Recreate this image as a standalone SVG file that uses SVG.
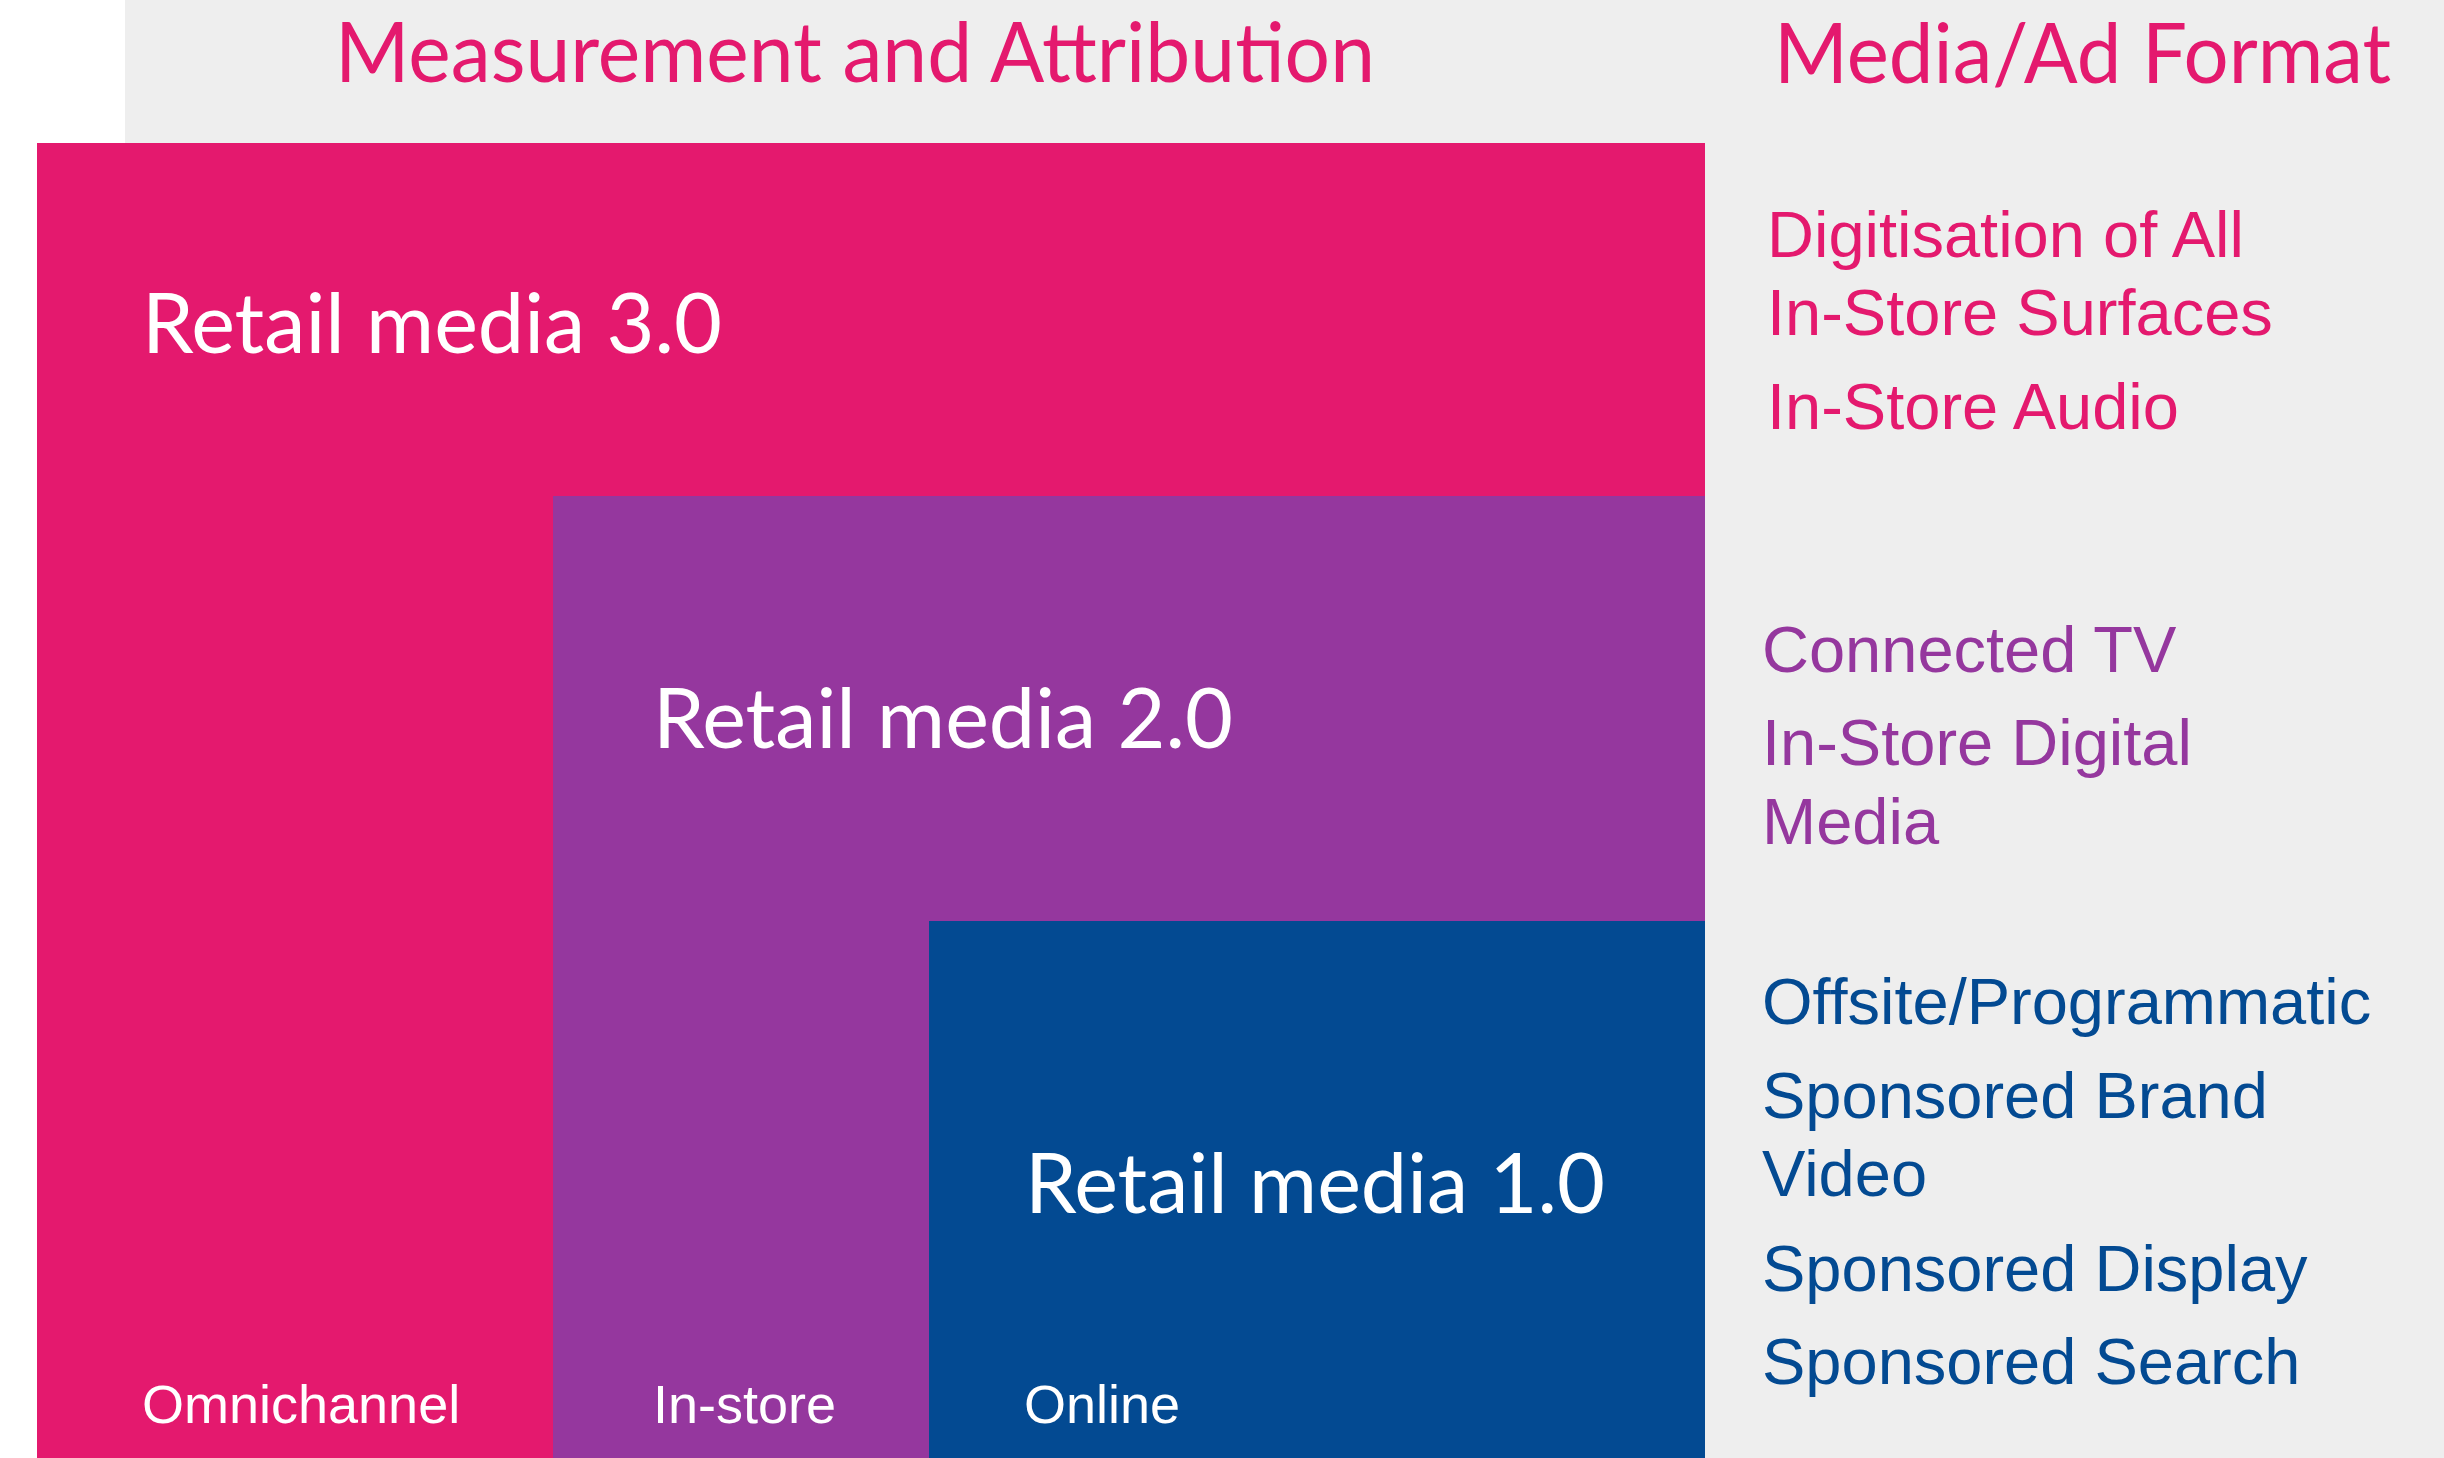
<svg xmlns="http://www.w3.org/2000/svg" width="2444" height="1458" viewBox="0 0 2444 1458">
  <style>
    .title { font-family: "Lato", "Open Sans", sans-serif; font-size: 84px; fill: #E4196E; }
    .tier { font-family: "Lato", "Open Sans", sans-serif; font-size: 84px; fill: #FFFFFF; }
    .channel { font-family: "Liberation Sans", Arial, sans-serif; font-size: 54px; fill: #FFFFFF; }
    .fmt { font-family: "Liberation Sans", Arial, sans-serif; font-size: 65px; }
    .pink { fill: #E4196E; }
    .purple { fill: #95379E; }
    .blue { fill: #034A92; }
  </style>

  <!-- page background -->
  <rect x="0" y="0" width="2444" height="1458" fill="#FFFFFF"/>
  <rect x="125" y="0" width="2319" height="1458" fill="#EEEEEE"/>

  <!-- column headings -->
  <g id="headings">
    <text class="title" x="335" y="82" textLength="1040" lengthAdjust="spacingAndGlyphs">Measurement and Attribution</text>
    <text class="title" x="1774" y="83" textLength="617" lengthAdjust="spacingAndGlyphs">Media/Ad Format</text>
  </g>

  <!-- nested tiers -->
  <g id="retail-media-3">
    <rect class="pink" x="37" y="143" width="1668" height="1315"/>
    <text class="tier" x="142" y="353" textLength="580" lengthAdjust="spacingAndGlyphs">Retail media 3.0</text>
    <text class="channel" x="142" y="1423">Omnichannel</text>
  </g>

  <g id="retail-media-2">
    <rect class="purple" x="553" y="496" width="1152" height="962"/>
    <text class="tier" x="653" y="748" textLength="580" lengthAdjust="spacingAndGlyphs">Retail media 2.0</text>
    <text class="channel" x="653" y="1423">In-store</text>
  </g>

  <g id="retail-media-1">
    <rect class="blue" x="929" y="921" width="776" height="537"/>
    <text class="tier" x="1025" y="1213" textLength="580" lengthAdjust="spacingAndGlyphs">Retail media 1.0</text>
    <text class="channel" x="1024" y="1423">Online</text>
  </g>

  <!-- ad formats per tier -->
  <g id="formats-3">
    <text class="fmt pink" x="1767" y="257">Digitisation of All</text>
    <text class="fmt pink" x="1767" y="335">In-Store Surfaces</text>
    <text class="fmt pink" x="1767" y="429">In-Store Audio</text>
  </g>

  <g id="formats-2">
    <text class="fmt purple" x="1762" y="672">Connected TV</text>
    <text class="fmt purple" x="1762" y="765">In-Store Digital</text>
    <text class="fmt purple" x="1762" y="844">Media</text>
  </g>

  <g id="formats-1">
    <text class="fmt blue" x="1762" y="1024">Offsite/Programmatic</text>
    <text class="fmt blue" x="1762" y="1118">Sponsored Brand</text>
    <text class="fmt blue" x="1762" y="1196">Video</text>
    <text class="fmt blue" x="1762" y="1291">Sponsored Display</text>
    <text class="fmt blue" x="1762" y="1384">Sponsored Search</text>
  </g>

  <g id="connectors"/>
</svg>
